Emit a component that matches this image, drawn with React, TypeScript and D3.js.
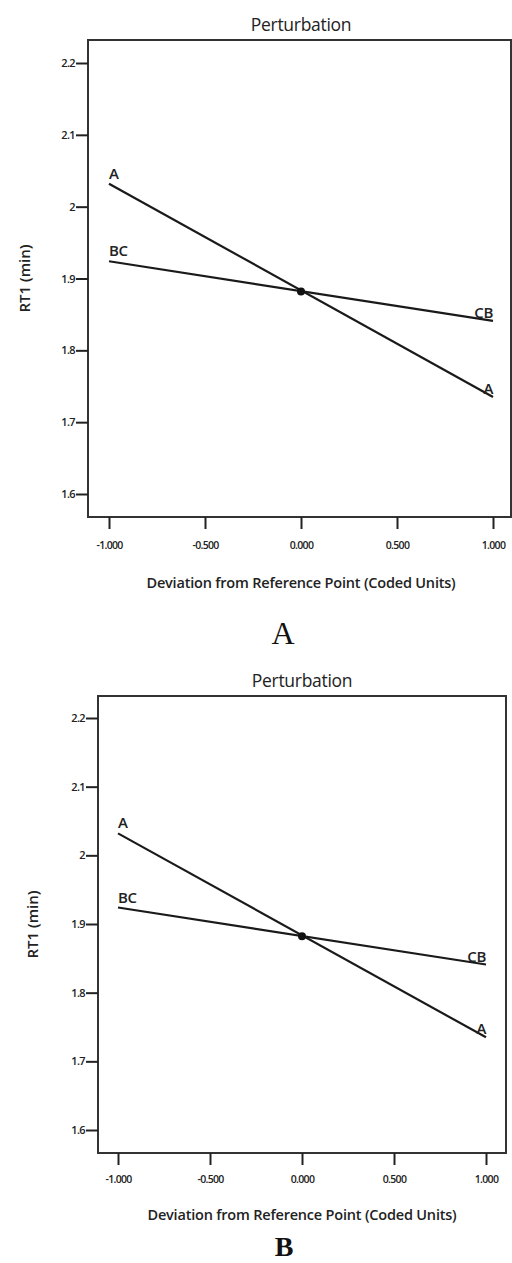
import React, { useEffect, useRef } from "react";
import * as d3 from "d3";

// coded deviation from the reference point
const deviation = [-1, 1];
// RT1 (min) at each end of the perturbation traces
const traceA = [2.032, 1.735];
const traceBC = [1.924, 1.841];
const refPoint = { x: 0, y: 1.882 };

const xTicks = [-1, -0.5, 0, 0.5, 1];
const yTicks = [1.6, 1.7, 1.8, 1.9, 2.0, 2.1, 2.2];

const panels = [
  {
    caption: "A",
    bold: false,
    frame: { left: 88, top: 40, right: 511, bottom: 517 },
    xRange: [109, 493],
    yRange: [494, 63],
    titleY: 31,
    tickLabelY: 549,
    axisTitleY: 588,
    yLabelX: 25,
    captionY: 644,
  },
  {
    caption: "B",
    bold: true,
    frame: { left: 98, top: 696, right: 506, bottom: 1153 },
    xRange: [118, 486],
    yRange: [1130, 718],
    titleY: 687,
    tickLabelY: 1183,
    axisTitleY: 1220,
    yLabelX: 33,
    captionY: 1256,
  },
];

const FONT = "'Open Sans', 'DejaVu Sans', sans-serif";
const fmtX = (d: number) => d3.format(".3f")(d).replace("\u2212", "-");

const App = () => {
  const svgRef = useRef<SVGSVGElement>(null);

  useEffect(() => {
    const svg = d3.select(svgRef.current);
    svg.selectAll("*").remove();

    panels.forEach((p) => {
      const g = svg.append("g");
      const { left, top, right, bottom } = p.frame;
      const x = d3.scaleLinear().domain([-1, 1]).range(p.xRange);
      const y = d3.scaleLinear().domain([1.6, 2.2]).range(p.yRange);

      // title
      g.append("text")
        .attr("x", x(0))
        .attr("y", p.titleY)
        .attr("text-anchor", "middle")
        .attr("font-family", FONT)
        .attr("font-size", 17.5)
        .attr("letter-spacing", -0.3)
        .attr("fill", "#222")
        .text("Perturbation");

      // frame
      g.append("rect")
        .attr("x", left)
        .attr("y", top)
        .attr("width", right - left)
        .attr("height", bottom - top)
        .attr("fill", "none")
        .attr("stroke", "#333")
        .attr("stroke-width", 2);

      // axes
      const xAxis = g
        .append("g")
        .attr("transform", `translate(0,${bottom})`)
        .call(
          d3
            .axisBottom(x)
            .tickValues(xTicks)
            .tickSize(12)
            .tickFormat((d) => fmtX(+d))
        );
      xAxis.select(".domain").remove();
      xAxis.selectAll("line").attr("stroke", "#222").attr("stroke-width", 2);
      xAxis
        .selectAll("text")
        .attr("y", p.tickLabelY - bottom)
        .attr("dy", 0)
        .attr("font-family", FONT)
        .attr("font-size", 10.5)
        .attr("font-weight", 600)
        .attr("letter-spacing", -0.7)
        .attr("fill", "#222");

      const yAxis = g
        .append("g")
        .attr("transform", `translate(${left},0)`)
        .call(
          d3
            .axisLeft(y)
            .tickValues(yTicks)
            .tickSize(12)
            .tickFormat((d) => String(+(+d).toFixed(1)))
        );
      yAxis.select(".domain").remove();
      yAxis.selectAll("line").attr("stroke", "#222").attr("stroke-width", 2);
      yAxis
        .selectAll("text")
        .attr("x", -13)
        .attr("font-family", FONT)
        .attr("font-size", 11)
        .attr("font-weight", 600)
        .attr("letter-spacing", -0.6)
        .attr("fill", "#222");

      // axis titles
      g.append("text")
        .attr("x", x(0))
        .attr("y", p.axisTitleY)
        .attr("text-anchor", "middle")
        .attr("font-family", FONT)
        .attr("font-size", 14.5)
        .attr("font-weight", 600)
        .attr("letter-spacing", -0.2)
        .attr("fill", "#222")
        .text("Deviation from Reference Point (Coded Units)");

      const yMid = (top + bottom) / 2;
      g.append("text")
        .attr("transform", `translate(${p.yLabelX},${yMid}) rotate(-90)`)
        .attr("text-anchor", "middle")
        .attr("dy", "0.35em")
        .attr("font-family", FONT)
        .attr("font-size", 15)
        .attr("font-weight", 600)
        .attr("fill", "#222")
        .text("RT1 (min)");

      // traces
      const line = d3
        .line<[number, number]>()
        .x((d) => x(d[0]))
        .y((d) => y(d[1]));

      const traces = [
        { values: traceA, left: "A", right: "A" },
        { values: traceBC, left: "BC", right: "CB" },
      ];
      traces.forEach((t) => {
        const pts = deviation.map((dv, i) => [dv, t.values[i]] as [number, number]);
        g.append("path")
          .attr("d", line(pts))
          .attr("fill", "none")
          .attr("stroke", "#1a1a1a")
          .attr("stroke-width", 2.2);

        g.append("text")
          .attr("x", x(deviation[0]))
          .attr("y", y(t.values[0]) - 5)
          .attr("font-family", FONT)
          .attr("font-size", 15)
          .attr("font-weight", 600)
          .attr("letter-spacing", -0.3)
          .attr("fill", "#222")
          .text(t.left);

        g.append("text")
          .attr("x", x(deviation[1]))
          .attr("y", y(t.values[1]) - 3)
          .attr("text-anchor", "end")
          .attr("font-family", FONT)
          .attr("font-size", 15)
          .attr("font-weight", 600)
          .attr("letter-spacing", -0.3)
          .attr("fill", "#222")
          .text(t.right);
      });

      // reference point
      g.append("circle")
        .attr("cx", x(refPoint.x))
        .attr("cy", y(refPoint.y))
        .attr("r", 4)
        .attr("fill", "#111");

      // panel caption
      g.append("text")
        .attr("x", x(0) - 18)
        .attr("y", p.captionY)
        .attr("text-anchor", "middle")
        .attr("font-family", "'Liberation Serif', 'DejaVu Serif', serif")
        .attr("font-size", p.bold ? 28 : 32)
        .attr("font-weight", p.bold ? 700 : 400)
        .attr("fill", "#111")
        .text(p.caption);
    });
  }, []);

  return (
    <svg
      ref={svgRef}
      width="512"
      height="1263"
      style={{ position: "absolute", left: 0, top: 0, background: "#fff" }}
    ></svg>
  );
};

export default App;
